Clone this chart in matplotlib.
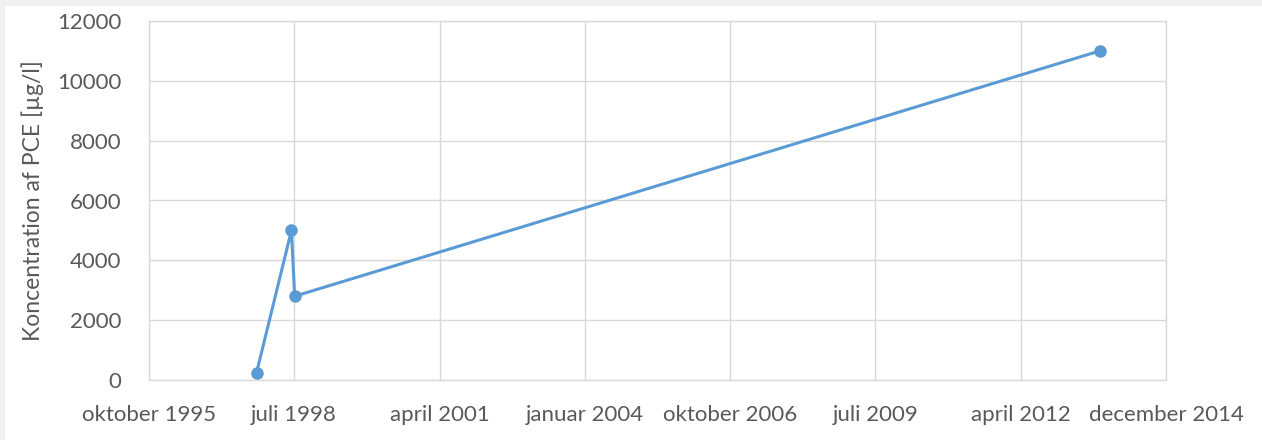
import matplotlib
matplotlib.use("Agg")
import matplotlib.pyplot as plt
import datetime as dt

# Data
dates = ["1997-11-07", "1998-07-05", "1998-07-27", "2013-10-01"]
values = [250, 5000, 2800, 11000]
tick_dates = ["1995-10-28", "1998-07-24", "2001-04-20", "2004-01-15",
              "2006-10-12", "2009-07-09", "2012-04-04", "2014-12-31"]
tick_labels = ["oktober 1995", "juli 1998", "april 2001", "januar 2004",
               "oktober 2006", "juli 2009", "april 2012", "december 2014"]
yticks = [0, 2000, 4000, 6000, 8000, 10000, 12000]
ylabel = "Koncentration af PCE [µg/l]"

plt.rcParams['font.family'] = ['Lato', 'DejaVu Sans']

W, H = 1262, 440
fig = plt.figure(figsize=(W/100, H/100), dpi=100, facecolor="#f0f0f0")
bg = fig.add_axes([5/W, 0, 1 - 5/W, 1 - 6/H], zorder=-10)
bg.set_facecolor("white")
bg.set_xticks([]); bg.set_yticks([])
for s in bg.spines.values():
    s.set_visible(False)

ax = fig.add_axes([149/W, (H-380)/H, (1166-149)/W, (380-21)/H], zorder=1)
ax.set_facecolor("white")

x = [dt.datetime.strptime(d, "%Y-%m-%d") for d in dates]
tx = [dt.datetime.strptime(d, "%Y-%m-%d") for d in tick_dates]

ax.plot(x, values, color="#5b9bd5", lw=2.2, marker="o", ms=8, zorder=3)

ax.set_xlim(tx[0], tx[-1])
ax.set_ylim(0, 12000)
ax.set_xticks(tx)
ax.set_xticklabels(tick_labels)
ax.set_yticks(yticks)
ax.set_yticklabels([str(v) for v in yticks])

ax.grid(True, color="#d9d9d9", lw=1.0)
ax.set_axisbelow(True)
for s in ax.spines.values():
    s.set_color("#d9d9d9")
    s.set_linewidth(1.0)
ax.tick_params(length=0, colors="#595959", labelsize=16, pad=18)
ax.tick_params(axis="y", pad=20)
ax.set_ylabel(ylabel, color="#595959", fontsize=16.5, labelpad=9)

fig.savefig("out.png", dpi=100, facecolor=fig.get_facecolor())
